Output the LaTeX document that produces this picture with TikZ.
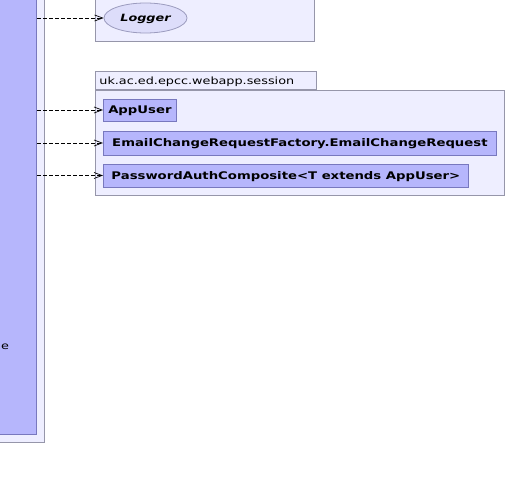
\documentclass[tikz,border=0pt]{standalone}
\usepackage{fontspec}
\setmainfont{DejaVu Sans}
\newfontfamily\umlfont[FakeStretch=1.28]{DejaVu Sans}
\newfontfamily\clsfont[FakeStretch=1.26]{DejaVu Sans}
\usetikzlibrary{shapes.geometric,arrows.meta}

\definecolor{clsfill}{RGB}{182,182,252}
\definecolor{clsdraw}{RGB}{120,120,190}
\definecolor{pkgfill}{RGB}{238,238,255}
\definecolor{pkgdraw}{RGB}{150,150,170}
\definecolor{ifacefill}{RGB}{221,221,250}
\definecolor{ifacedraw}{RGB}{155,155,190}

\tikzset{
	pkg/.style={draw=pkgdraw,fill=pkgfill,line width=0.8pt,inner sep=0pt},
	pkgtab/.style={pkg,anchor=south west,minimum width=221pt,minimum height=18pt,
		text width=213pt,align=left,text height=7.3pt,text depth=0pt,
		font=\umlfont\fontsize{10}{12}\selectfont},
	cls/.style={draw=clsdraw,fill=clsfill,line width=0.8pt,inner sep=0pt,anchor=west,
		text height=7.6pt,text depth=0pt,
		font=\clsfont\bfseries\fontsize{10.5}{12}\selectfont},
	iface/.style={ellipse,draw=ifacedraw,fill=ifacefill,line width=0.8pt,inner sep=0pt,
		minimum width=83pt,minimum height=30pt,text height=7.3pt,text depth=0pt,
		font=\umlfont\bfseries\itshape\fontsize{10}{12}\selectfont},
	dep/.style={draw=black,line width=0.7pt,dash pattern=on 4pt off 2pt,
		-{Straight Barb[length=8pt,width=6pt,line width=0.7pt]}}
}

\begin{document}
\begin{tikzpicture}[x=1pt,y=-1pt]
	\useasboundingbox (0,0) rectangle (507,481);

	% package holding the using class
	\node[pkg,anchor=south east,minimum width=70pt,minimum height=470pt] (leftpkg) at (45,443) {};
	\node[cls,anchor=south east,minimum width=60pt,minimum height=460pt] (leftcls) at (37,435) {};
	\node[anchor=west,inner sep=0pt,font=\umlfont\fontsize{10}{12}\selectfont] (lefttext) at (1,347) {e};

	% logging package
	\node[pkg,anchor=south west,minimum width=219pt,minimum height=60pt] (loggerpkg) at (95,42) {};
	\node[iface] (logger) at (145.5,18) {Logger};

	% session package
	\node[pkgtab] (sessiontab) at (95,90) {uk.ac.ed.epcc.webapp.session};
	\node[pkg,anchor=north west,minimum width=409pt,minimum height=105pt] (sessionpkg) at (95,90) {};
	\node[cls,minimum width=73pt,minimum height=22pt] (appuser) at (103,110) {AppUser};
	\node[cls,minimum width=393pt,minimum height=24pt] (emailreq) at (103,143)
		{EmailChangeRequestFactory.EmailChangeRequest};
	\node[cls,minimum width=365pt,minimum height=23pt] (pwauth) at (103,175.5)
		{PasswordAuthComposite<T extends AppUser>};

	% dependencies
	\draw[dep] (leftcls.east |- logger.west) -- (logger.west);
	\draw[dep] (leftcls.east |- appuser.west) -- (appuser.west);
	\draw[dep] (leftcls.east |- emailreq.west) -- (emailreq.west);
	\draw[dep] (leftcls.east |- pwauth.west) -- (pwauth.west);
\end{tikzpicture}
\end{document}
